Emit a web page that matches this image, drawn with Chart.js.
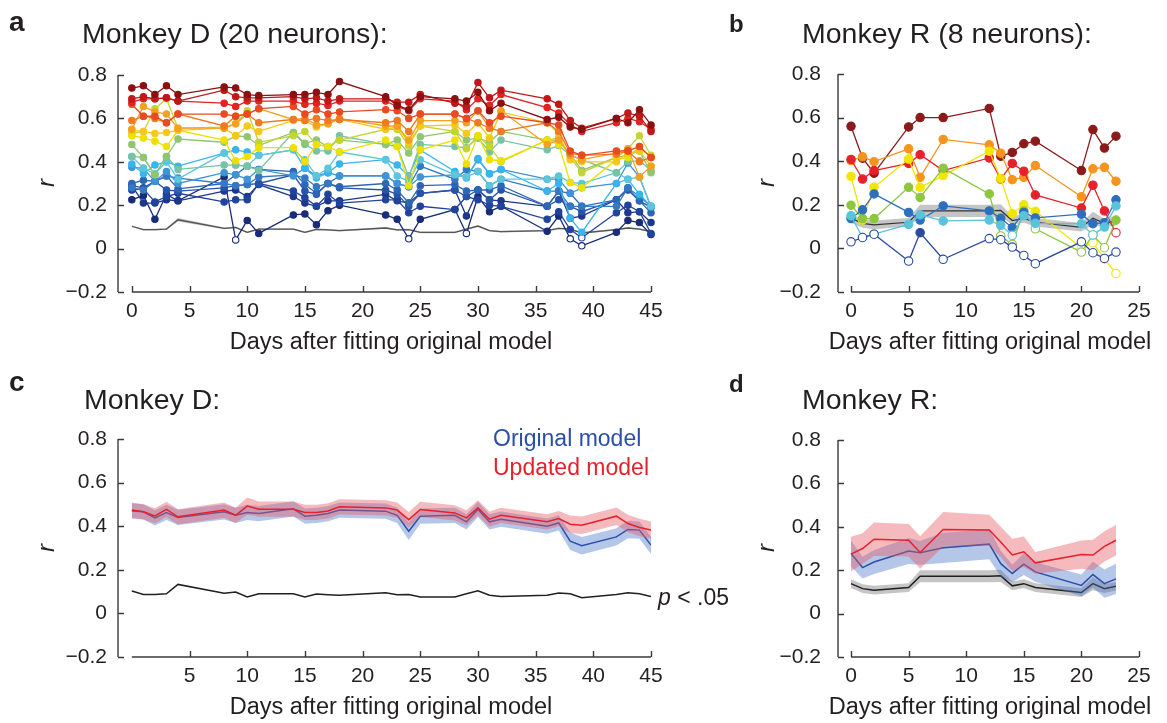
<!DOCTYPE html>
<html>
<head>
<meta charset="utf-8">
<script src="https://cdn.jsdelivr.net/npm/chart.js@4.4.1/dist/chart.umd.min.js"></script>
<style>
  body { margin: 0; background: #fff; }
  #fig { position: relative; width: 1167px; height: 723px; overflow: hidden; font-family: Arial, 'Liberation Sans', Helvetica, sans-serif; color: #231f20; }
  #fig canvas { position: absolute; left: 0; top: 0; }
  .lbl { position: absolute; white-space: nowrap; line-height: 1; }
  .letter { font-weight: bold; }
  .ttl { font-size: 28.5px; }
  .xt { font-size: 23.5px; width: 400px; text-align: center; }
  .yt { font-size: 24px; font-style: italic; transform: translate(-50%, -50%) rotate(-90deg); }
  .leg { font-size: 23px; }
</style>
</head>
<body>
<div id="fig">
  <canvas id="chartA" width="1167" height="723"></canvas>
  <canvas id="chartB" width="1167" height="723"></canvas>
  <canvas id="chartC" width="1167" height="723"></canvas>
  <canvas id="chartD" width="1167" height="723"></canvas>

  <div class="lbl letter" style="left:9px; top:8px; font-size:28px;">a</div>
  <div class="lbl ttl" style="left:82px; top:19px;">Monkey D (20 neurons):</div>
  <div class="lbl letter" style="left:729px; top:12px; font-size:24px;">b</div>
  <div class="lbl ttl" style="left:802px; top:19px;">Monkey R (8 neurons):</div>
  <div class="lbl letter" style="left:9px; top:368px; font-size:28px;">c</div>
  <div class="lbl ttl" style="left:84px; top:385px;">Monkey D:</div>
  <div class="lbl letter" style="left:729px; top:372px; font-size:24px;">d</div>
  <div class="lbl ttl" style="left:802px; top:385px;">Monkey R:</div>

  <div class="lbl yt" style="left:46px; top:183px;">r</div>
  <div class="lbl yt" style="left:766px; top:183px;">r</div>
  <div class="lbl yt" style="left:46px; top:548px;">r</div>
  <div class="lbl yt" style="left:766px; top:548px;">r</div>

  <div class="lbl xt" style="left:191px; top:330px;">Days after fitting original model</div>
  <div class="lbl xt" style="left:790px; top:330px;">Days after fitting original model</div>
  <div class="lbl xt" style="left:191px; top:695px;">Days after fitting original model</div>
  <div class="lbl xt" style="left:790px; top:695px;">Days after fitting original model</div>

  <div class="lbl leg" style="left:493px; top:427px; color:#2b4ea8;">Original model</div>
  <div class="lbl leg" style="left:493px; top:456px; color:#e8202a;">Updated model</div>
  <div class="lbl leg" style="left:658px; top:586px;"><i>p</i> &lt; .05</div>
</div>

<script>
// ---- Monkey D: recording days and per-neuron correlations ----
const daysD = [0, 1, 2, 3, 4, 8, 9, 10, 11, 14, 15, 16, 17, 18, 22, 23, 24, 25, 28, 29, 30, 31, 32, 36, 37, 38, 39, 42, 43, 44, 45];

// one row per neuron, lowest mean r first
const neuronsD = [
  [0.225,0.245,0.135,0.25,0.22, 0.33,0.04,0.13,0.07, 0.155,0.16,0.11,0.175,0.20, 0.155,0.135,0.045,0.135, 0.18,0.07,0.24,0.17,0.195, 0.08,0.15,0.045,0.013, 0.075,0.13,0.12,0.065],
  [0.29,0.21,0.21,0.225,0.22, 0.265,0.27,0.24,0.295, 0.24,0.21,0.195,0.22,0.22, 0.25,0.22,0.21,0.255, 0.27,0.15,0.27,0.225,0.22, 0.195,0.265,0.14,0.15, 0.225,0.165,0.17,0.12],
  [0.27,0.275,0.215,0.24,0.255, 0.215,0.225,0.225,0.30, 0.265,0.235,0.195,0.25,0.21, 0.225,0.225,0.165,0.195, 0.18,0.24,0.225,0.20,0.195, 0.135,0.17,0.088,0.05, 0.165,0.20,0.17,0.07],
  [0.29,0.28,0.31,0.27,0.265, 0.28,0.29,0.295,0.30, 0.34,0.265,0.25,0.30,0.28, 0.27,0.25,0.195,0.255, 0.27,0.24,0.27,0.225,0.27, 0.195,0.225,0.195,0.17, 0.225,0.27,0.22,0.19],
  [0.30,0.315,0.31,0.335,0.275, 0.30,0.34,0.38,0.365, 0.355,0.295,0.255,0.30,0.285, 0.30,0.27,0.21,0.29, 0.295,0.265,0.27,0.27,0.29, 0.195,0.265,0.255,0.195, 0.225,0.28,0.22,0.165],
  [0.28,0.27,0.31,0.335,0.325, 0.30,0.29,0.295,0.33, 0.34,0.325,0.285,0.30,0.335, 0.335,0.30,0.285,0.38, 0.32,0.365,0.355,0.29,0.32, 0.265,0.265,0.195,0.195, 0.195,0.28,0.24,0.195],
  [0.375,0.37,0.31,0.355,0.30, 0.35,0.34,0.32,0.365, 0.335,0.37,0.335,0.35,0.335, 0.335,0.30,0.285,0.33, 0.34,0.33,0.41,0.345,0.365, 0.32,0.32,0.255,0.28, 0.30,0.395,0.33,0.19],
  [0.39,0.345,0.385,0.40,0.38, 0.44,0.455,0.445,0.43, 0.455,0.37,0.325,0.35,0.39, 0.41,0.385,0.335,0.455, 0.355,0.325,0.415,0.345,0.365, 0.265,0.30,0.14,0.075, 0.30,0.32,0.25,0.195],
  [0.425,0.37,0.345,0.40,0.32, 0.44,0.385,0.38,0.43, 0.455,0.41,0.335,0.37,0.445, 0.41,0.335,0.31,0.41, 0.34,0.33,0.355,0.29,0.32, 0.32,0.335,0.305,0.30, 0.35,0.32,0.33,0.195],
  [0.425,0.42,0.34,0.425,0.365, 0.385,0.385,0.38,0.36, 0.535,0.48,0.45,0.45,0.52, 0.48,0.47,0.33,0.48, 0.47,0.465,0.51,0.445,0.50, 0.455,0.475,0.43,0.41, 0.35,0.40,0.405,0.36],
  [0.48,0.42,0.34,0.425,0.505, 0.49,0.52,0.515,0.475, 0.535,0.485,0.50,0.47,0.50, 0.48,0.50,0.44,0.515, 0.54,0.50,0.51,0.49,0.54, 0.50,0.50,0.435,0.36, 0.42,0.43,0.45,0.35],
  [0.53,0.54,0.645,0.69,0.555, 0.56,0.575,0.635,0.49, 0.52,0.54,0.48,0.47,0.50, 0.55,0.55,0.475,0.565, 0.54,0.46,0.52,0.47,0.40, 0.50,0.51,0.42,0.35, 0.42,0.46,0.52,0.43],
  [0.52,0.51,0.495,0.47,0.545, 0.50,0.405,0.425,0.465, 0.465,0.40,0.48,0.47,0.445, 0.50,0.47,0.29,0.455, 0.50,0.39,0.52,0.41,0.405, 0.50,0.48,0.305,0.28, 0.41,0.42,0.47,0.42],
  [0.545,0.54,0.53,0.535,0.545, 0.555,0.52,0.565,0.54, 0.59,0.59,0.56,0.575,0.595, 0.55,0.56,0.49,0.565, 0.57,0.53,0.58,0.51,0.63, 0.58,0.53,0.41,0.40, 0.40,0.44,0.45,0.38],
  [0.55,0.655,0.63,0.62,0.555, 0.555,0.575,0.62,0.645, 0.595,0.60,0.57,0.575,0.60, 0.565,0.565,0.50,0.59, 0.59,0.58,0.635,0.555,0.635, 0.48,0.50,0.43,0.41, 0.44,0.46,0.33,0.38],
  [0.59,0.61,0.60,0.58,0.62, 0.565,0.61,0.62,0.58, 0.595,0.59,0.60,0.59,0.595, 0.58,0.59,0.54,0.62, 0.62,0.60,0.58,0.555,0.54, 0.58,0.54,0.44,0.43, 0.435,0.45,0.40,0.42],
  [0.665,0.61,0.61,0.58,0.62, 0.62,0.61,0.62,0.645, 0.655,0.62,0.64,0.62,0.63, 0.64,0.635,0.60,0.62, 0.62,0.60,0.635,0.58,0.61, 0.58,0.57,0.45,0.43, 0.45,0.45,0.47,0.42],
  [0.675,0.69,0.69,0.695,0.68, 0.67,0.655,0.68,0.68, 0.68,0.665,0.67,0.66,0.68, 0.68,0.655,0.635,0.69, 0.68,0.64,0.69,0.66,0.71, 0.65,0.625,0.57,0.54, 0.58,0.60,0.585,0.55],
  [0.69,0.70,0.69,0.695,0.68, 0.73,0.70,0.695,0.695, 0.70,0.69,0.695,0.68,0.69, 0.69,0.675,0.675,0.71, 0.67,0.655,0.765,0.695,0.73, 0.69,0.665,0.59,0.555, 0.60,0.625,0.61,0.54],
  [0.74,0.75,0.71,0.75,0.71, 0.745,0.74,0.71,0.705, 0.71,0.71,0.72,0.71,0.77, 0.70,0.66,0.64,0.70, 0.69,0.68,0.72,0.635,0.67, 0.595,0.605,0.56,0.55, 0.60,0.58,0.64,0.57]
];

// sessions (by index into daysD) where a neuron's r was not significant
const openD = [[6, 16, 19, 25, 26], [], [26], [], [], [], [], [], [], [], [], [], [], [], [], [], [], [], [], []];

// chance level (p < .05) and its spread
const chanceD = [0.103,0.087,0.087,0.09,0.133, 0.093,0.098,0.075,0.09, 0.09,0.075,0.089,0.086,0.083, 0.095,0.086,0.087,0.075, 0.075,0.09,0.104,0.083,0.078, 0.083,0.093,0.09,0.072, 0.087,0.095,0.09,0.078];
const chanceSemD = [0.004,0.004,0.004,0.004,0.008, 0.004,0.004,0.004,0.004, 0.004,0.004,0.004,0.004,0.004, 0.004,0.004,0.004,0.004, 0.004,0.004,0.004,0.004,0.004, 0.004,0.004,0.004,0.004, 0.004,0.004,0.004,0.004];

// population mean r, original vs updated model
const origD = [0.47,0.466,0.438,0.463,0.44, 0.466,0.45,0.463,0.458, 0.48,0.446,0.45,0.458,0.474, 0.469,0.45,0.377,0.446, 0.45,0.42,0.477,0.42,0.432, 0.40,0.415,0.331,0.31, 0.351,0.385,0.382,0.313];
const origSemD = [0.035,0.035,0.035,0.035,0.035, 0.035,0.035,0.035,0.035, 0.035,0.035,0.035,0.035,0.035, 0.035,0.035,0.04,0.035, 0.035,0.035,0.035,0.035,0.035, 0.035,0.035,0.04,0.04, 0.04,0.04,0.04,0.04];
const updD = [0.474,0.466,0.447,0.477,0.443, 0.474,0.45,0.492,0.478, 0.478,0.463,0.463,0.47,0.489, 0.484,0.474,0.43,0.477, 0.461,0.438,0.484,0.432,0.45, 0.42,0.435,0.409,0.404, 0.446,0.412,0.394,0.382];
const updSemD = [0.035,0.035,0.035,0.035,0.035, 0.035,0.035,0.04,0.035, 0.035,0.035,0.035,0.035,0.035, 0.035,0.035,0.035,0.035, 0.035,0.035,0.035,0.035,0.035, 0.035,0.035,0.04,0.04, 0.04,0.04,0.04,0.04];

// ---- Monkey R ----
const daysR = [0, 1, 2, 5, 6, 8, 12, 13, 14, 15, 16, 20, 21, 22, 23];

const neuronsR = [
  [0.56, 0.414, 0.345, 0.557, 0.6, 0.6, 0.642, 0.423, 0.44, 0.48, 0.492, 0.357, 0.545, 0.46, 0.515],
  [0.403, 0.42, 0.398, 0.457, 0.326, 0.5, 0.475, 0.437, 0.315, 0.326, 0.38, 0.237, 0.365, 0.372, 0.308],
  [0.408, 0.318, 0.357, 0.39, 0.43, 0.357, 0.415, 0.318, 0.39, 0.354, 0.245, 0.185, 0.29, 0.172, 0.072],
  [0.33, 0.13, 0.28, 0.41, 0.28, 0.334, 0.446, 0.32, 0.16, 0.2, 0.17, 0.003, 0.026, -0.048, -0.115],
  [0.198, 0.137, 0.137, 0.28, 0.234, 0.368, 0.25, 0.057, 0.018, 0.172, 0.09, -0.017, 0.062, 0.003, 0.13],
  [0.137, 0.177, 0.25, 0.165, 0.13, 0.195, 0.172, 0.138, 0.095, 0.165, 0.14, 0.157, 0.113, 0.118, 0.223],
  [0.15, 0.05, 0.065, 0.11, 0.154, 0.126, 0.13, 0.106, 0.06, 0.15, 0.115, 0.113, 0.062, 0.098, 0.195],
  [0.03, 0.05, 0.065, -0.058, 0.072, -0.05, 0.045, 0.04, 0.006, -0.032, -0.07, 0.03, -0.02, -0.046, -0.017]
];
const openR = [[], [], [14], [11, 12, 13, 14], [7, 8, 10, 11, 12, 13], [], [1, 2, 8, 12], [0, 1, 2, 3, 5, 6, 7, 8, 9, 10, 11, 12, 13, 14]];

const chanceR = [0.138, 0.115, 0.108, 0.12, 0.172, 0.172, 0.172, 0.174, 0.128, 0.138, 0.12, 0.097, 0.138, 0.115, 0.126];
const chanceSemR = [0.02, 0.02, 0.02, 0.02, 0.028, 0.028, 0.028, 0.028, 0.02, 0.02, 0.02, 0.02, 0.03, 0.02, 0.02];

const origR = [0.277, 0.212, 0.238, 0.288, 0.28, 0.303, 0.32, 0.23, 0.185, 0.228, 0.192, 0.13, 0.18, 0.138, 0.16];
const origSemR = [0.06, 0.05, 0.055, 0.06, 0.055, 0.07, 0.07, 0.06, 0.04, 0.05, 0.045, 0.05, 0.06, 0.065, 0.07];
const updR = [0.274, 0.30, 0.343, 0.338, 0.282, 0.388, 0.385, 0.33, 0.27, 0.285, 0.234, 0.272, 0.27, 0.31, 0.338];
const updSemR = [0.08, 0.07, 0.077, 0.075, 0.075, 0.08, 0.07, 0.07, 0.075, 0.07, 0.05, 0.065, 0.07, 0.07, 0.07];

// axis ticks
const yTicks = [-0.2, 0, 0.2, 0.4, 0.6, 0.8];
const xTicksD = [0, 5, 10, 15, 20, 25, 30, 35, 40, 45];
const xTicksDMean = [5, 10, 15, 20, 25, 30, 35, 40, 45];
const xTicksR = [0, 5, 10, 15, 20, 25];

// ---- styling ----
const colorsD = ['#182c78', '#1c378c', '#20449c', '#2654aa', '#2d66b6', '#3579c4', '#3e94d6', '#38b4ee', '#5cc6dc', '#78c3a4',
                 '#90c670', '#c4d62e', '#eee000', '#f8c818', '#f5a020', '#f07a22', '#ea4a22', '#e32222', '#c01818', '#8b1010'];
const colorsR = ['#8b1a1a', '#f7941d', '#e8202a', '#f2e500', '#8dc63f', '#2e6fbd', '#5bc2dc', '#2a4aa0'];
const BLUE = '#2b4ea8', RED = '#e8202a', INK = '#231f20';
const PAGE_W = 1167, PAGE_H = 723, Y_W = 60, X_H = 40;
const tickFont = { family: "Arial, 'Liberation Sans', Helvetica, sans-serif", size: 21 };

Chart.defaults.animation = false;

// MATLAB-style axes: y axis at the left edge, x axis starting at its first day, inward ticks
const matlabAxes = {
  id: 'matlabAxes',
  afterDraw(chart, args, opts) {
    const { ctx, chartArea: a, scales: { x, y } } = chart;
    ctx.save();
    ctx.strokeStyle = '#3a3a3a';
    ctx.lineWidth = 1.4;
    ctx.beginPath();
    ctx.moveTo(a.left, a.top);
    ctx.lineTo(a.left, a.bottom);
    y.ticks.forEach(t => {
      const py = Math.round(y.getPixelForValue(t.value)) + 0.5;
      ctx.moveTo(a.left, py);
      ctx.lineTo(a.left + 6, py);
    });
    const x0 = x.getPixelForValue(opts.xStart);
    const x1 = x.getPixelForValue(x.max);
    ctx.moveTo(x0, a.bottom);
    ctx.lineTo(x1, a.bottom);
    x.ticks.forEach(t => {
      const px = Math.round(x.getPixelForValue(t.value)) + 0.5;
      ctx.moveTo(px, a.bottom);
      ctx.lineTo(px, a.bottom - 6);
    });
    ctx.stroke();
    ctx.restore();
  }
};

function fmtR(v) {
  if (Math.abs(v) < 1e-9) return '0';
  return (v < 0 ? '\u2212' : '') + Math.abs(v).toFixed(1);
}

// plot = data rectangle in page pixels; xMin puts the y axis a little left of day 0
function panelOptions(plot, xMin, xMax, xTicks, yPad) {
  return {
    responsive: false,
    animation: false,
    events: [],
    layout: {
      padding: { left: plot.left - Y_W, top: plot.top, right: PAGE_W - plot.right, bottom: PAGE_H - plot.bottom - X_H }
    },
    plugins: { legend: { display: false }, tooltip: { enabled: false }, matlabAxes: { xStart: 0 } },
    scales: {
      x: {
        type: 'linear', min: xMin, max: xMax,
        grid: { display: false, drawTicks: false }, border: { display: false },
        afterBuildTicks: s => { s.ticks = xTicks.map(v => ({ value: v })); },
        afterFit: s => { s.height = X_H; },
        ticks: { padding: 7, color: INK, font: tickFont, maxRotation: 0, autoSkip: false, callback: v => String(v) }
      },
      y: {
        type: 'linear', min: -0.2, max: 0.8,
        grid: { display: false, drawTicks: false }, border: { display: false },
        afterBuildTicks: s => { s.ticks = yTicks.map(v => ({ value: v })); },
        afterFit: s => { s.width = Y_W; },
        ticks: { padding: yPad, color: INK, font: tickFont, autoSkip: false, callback: fmtR }
      }
    }
  };
}

const pts = (days, vals) => days.map((d, i) => ({ x: d, y: vals[i] }));

function neuronDataset(days, vals, color, open, radius, order) {
  return {
    data: pts(days, vals),
    borderColor: color,
    backgroundColor: color,
    borderWidth: 1.3,
    pointRadius: radius,
    pointBorderWidth: 1.1,
    pointBorderColor: color,
    pointBackgroundColor: vals.map((v, i) => open.includes(i) ? '#fff' : color),
    fill: false, tension: 0, clip: false, order
  };
}

function lineDataset(days, vals, color, width, order) {
  return { data: pts(days, vals), borderColor: color, borderWidth: width, pointRadius: 0, fill: false, tension: 0, order };
}

// upper edge fills down to the lower edge that follows it
function bandDatasets(days, mean, half, fillColor, order) {
  return [
    { data: pts(days, mean.map((m, i) => m + half[i])), borderColor: 'transparent', borderWidth: 0, pointRadius: 0, fill: '+1', backgroundColor: fillColor, tension: 0, order },
    { data: pts(days, mean.map((m, i) => m - half[i])), borderColor: 'transparent', borderWidth: 0, pointRadius: 0, fill: false, tension: 0, order }
  ];
}

// a: every Monkey D neuron
const dsA = [
  ...bandDatasets(daysD, chanceD, chanceSemD, 'rgba(120,120,120,0.45)', 100),
  lineDataset(daysD, chanceD, '#555', 1.3, 99),
  ...neuronsD.map((vals, i) => neuronDataset(daysD, vals, colorsD[i], openD[i], 3.2, 50 - i))
];
new Chart(document.getElementById('chartA'), {
  type: 'line',
  data: { datasets: dsA },
  options: panelOptions({ left: 118, top: 75, right: 651, bottom: 292 }, -1.2, 45, xTicksD, 11),
  plugins: [matlabAxes]
});

// b: every Monkey R neuron
const dsB = [
  ...bandDatasets(daysR, chanceR, chanceSemR, 'rgba(110,110,110,0.4)', 100),
  lineDataset(daysR, chanceR, '#333', 1.2, 99),
  ...neuronsR.map((vals, i) => neuronDataset(daysR, vals, colorsR[i], openR[i], 4.2, 50 - i))
];
new Chart(document.getElementById('chartB'), {
  type: 'line',
  data: { datasets: dsB },
  options: panelOptions({ left: 838, top: 74, right: 1139, bottom: 292 }, -1.13, 25, xTicksR, 17),
  plugins: [matlabAxes]
});

// c: Monkey D population means
const dsC = [
  ...bandDatasets(daysD, origD, origSemD, 'rgba(70,115,200,0.4)', 10),
  lineDataset(daysD, origD, BLUE, 1.5, 9),
  ...bandDatasets(daysD, updD, updSemD, 'rgba(230,90,100,0.42)', 8),
  lineDataset(daysD, updD, RED, 1.5, 7),
  lineDataset(daysD, chanceD, INK, 1.5, 6)
];
new Chart(document.getElementById('chartC'), {
  type: 'line',
  data: { datasets: dsC },
  options: panelOptions({ left: 118, top: 439, right: 651, bottom: 657 }, -1.2, 45, xTicksDMean, 11),
  plugins: [matlabAxes]
});

// d: Monkey R population means
const dsD = [
  ...bandDatasets(daysR, chanceR, chanceSemR, 'rgba(110,110,110,0.4)', 12),
  lineDataset(daysR, chanceR, INK, 1.5, 11),
  ...bandDatasets(daysR, origR, origSemR, 'rgba(70,115,200,0.4)', 10),
  lineDataset(daysR, origR, BLUE, 1.5, 9),
  ...bandDatasets(daysR, updR, updSemR, 'rgba(230,90,100,0.42)', 8),
  lineDataset(daysR, updR, RED, 1.5, 7)
];
new Chart(document.getElementById('chartD'), {
  type: 'line',
  data: { datasets: dsD },
  options: panelOptions({ left: 838, top: 440, right: 1139, bottom: 657 }, -1.13, 25, xTicksR, 17),
  plugins: [matlabAxes]
});
</script>
</body>
</html>
